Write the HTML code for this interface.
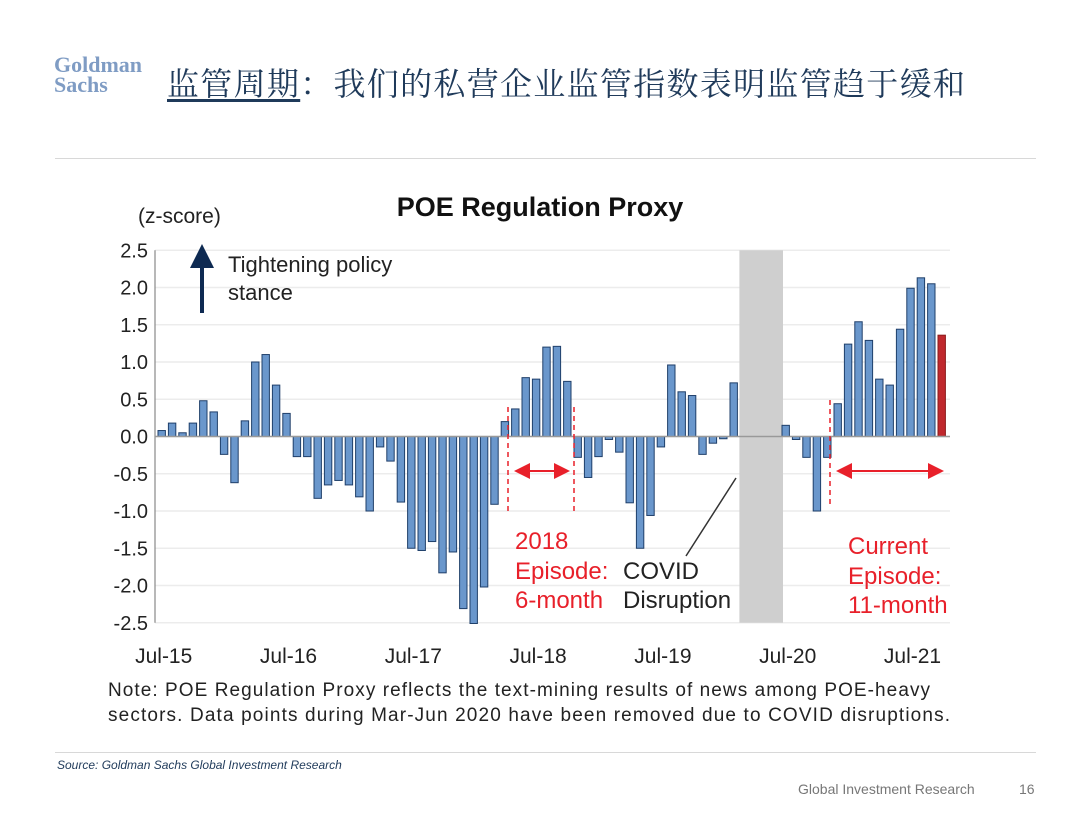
<!DOCTYPE html>
<html><head><meta charset="utf-8">
<style>
html,body{margin:0;padding:0;background:#fff;}
body{width:1080px;height:834px;position:relative;overflow:hidden;font-family:"Liberation Sans","Noto Sans CJK SC",sans-serif;}
.abs{position:absolute;white-space:nowrap;}
</style></head><body>
<div class="abs" style="left:54px;top:55px;font-family:'Liberation Serif',serif;font-weight:bold;font-size:22px;line-height:20px;color:#7f9cc4;">Goldman<br>Sachs</div>
<div class="abs" style="left:167px;top:59px;font-family:'Liberation Serif','Noto Serif CJK SC',serif;font-size:32px;color:#1f3a5a;letter-spacing:1.3px;"><span style="text-decoration:underline;text-underline-offset:4px;">监管周期</span>：我们的私营企业监管指数表明监管趋于缓和</div>
<div class="abs" style="left:55px;top:158px;width:981px;height:1px;background:#d8d8d8;"></div>

<svg id="chart" width="1080" height="834" style="position:absolute;left:0;top:0;" xmlns="http://www.w3.org/2000/svg"></svg>

<div class="abs" style="left:55px;top:752px;width:981px;height:1px;background:#d8d8d8;"></div>
<div class="abs" style="left:57px;top:758px;font-size:12px;font-style:italic;color:#1f3a5a;">Source: Goldman Sachs Global Investment Research</div>
<div class="abs" style="left:798px;top:781px;font-size:14px;color:#777;">Global Investment Research</div>
<div class="abs" style="left:1019px;top:781px;font-size:14px;color:#777;">16</div>

<script>
const values = [0.08,0.18,0.05,0.18,0.48,0.33,-0.24,-0.62,0.21,1.0,1.1,0.69,0.31,-0.27,-0.27,-0.83,-0.65,-0.59,-0.65,-0.81,-1.0,-0.14,-0.33,-0.88,-1.5,-1.53,-1.41,-1.83,-1.55,-2.31,-2.51,-2.02,-0.91,0.2,0.37,0.79,0.77,1.2,1.21,0.74,-0.28,-0.55,-0.27,-0.04,-0.21,-0.89,-1.5,-1.06,-0.14,0.96,0.6,0.55,-0.24,-0.09,-0.03,0.72,null,null,null,null,0.15,-0.04,-0.28,-1.0,-0.28,0.44,1.24,1.54,1.29,0.77,0.69,1.44,1.99,2.13,2.05,1.36];
const yTicks = [2.5,2.0,1.5,1.0,0.5,0.0,-0.5,-1.0,-1.5,-2.0,-2.5];
const xLabels = ["Jul-15","Jul-16","Jul-17","Jul-18","Jul-19","Jul-20","Jul-21"];
const xLabelIdx = [0,12,24,36,48,60,72];
const gapStart = 56, gapEnd = 59;

const NS="http://www.w3.org/2000/svg";
const svg=document.getElementById('chart');
const y0=436.5, unit=74.5, x0=161.7, step=10.4, bw=7.4;
const Y=v=>y0-v*unit;
const X=i=>x0+i*step;
function mk(tag,attrs,parent){const e=document.createElementNS(NS,tag);for(const k in attrs)e.setAttribute(k,attrs[k]);(parent||svg).appendChild(e);return e;}
function txt(s,x,y,attrs){const t=mk('text',Object.assign({x:x,y:y},attrs));t.textContent=s;return t;}

yTicks.forEach(v=>{
  const g=mk('line',{x1:155,x2:950,y1:Y(v),y2:Y(v),stroke:'#ececec','stroke-width':1.5});
  
  
  const t=txt(v.toFixed(1),148,Y(v)+7,{'text-anchor':'end','font-size':20,fill:'#222','font-family':'Liberation Sans'});
  
  
});
const band=mk('rect',{x:X(gapStart)-bw/2-1,y:Y(2.5),width:(gapEnd-gapStart+1)*step+2,height:Y(-2.5)-Y(2.5),fill:'#cfcfcf'});


const ya=mk('line',{x1:155,x2:155,y1:Y(2.5),y2:Y(-2.5),stroke:'#888','stroke-width':1.2});


values.forEach((v,i)=>{
  if(v===null)return;
  const r=mk('rect',{x:X(i)-bw/2,y:Math.min(Y(v),y0),width:bw,height:Math.abs(Y(v)-y0),fill:i===values.length-1?'#c0282d':'#6a97cc',stroke:i===values.length-1?'#8a1a1a':'#1f3f6a','stroke-width':1});
  
  
});
const za=mk('line',{x1:155,x2:950,y1:y0,y2:y0,stroke:'#999','stroke-width':1.5});


xLabels.forEach((s,k)=>{
  const t=txt(s,X(xLabelIdx[k])+2,663,{'text-anchor':'middle','font-size':21,fill:'#222','font-family':'Liberation Sans'});
  
  
});
</script>

<svg width="1080" height="834" style="position:absolute;left:0;top:0;" xmlns="http://www.w3.org/2000/svg">
  <defs>
    <marker id="ar" markerWidth="8" markerHeight="8" refX="6" refY="4" orient="auto"><path d="M0,0 L8,4 L0,8 z" fill="#e8202a"/></marker>
    <marker id="al" markerWidth="8" markerHeight="8" refX="2" refY="4" orient="auto"><path d="M8,0 L0,4 L8,8 z" fill="#e8202a"/></marker>
    <marker id="nav" markerWidth="6" markerHeight="6" refX="3" refY="3" orient="auto"><path d="M0,0 L6,3 L0,6 z" fill="#0e2a52"/></marker>
  </defs>
  <text x="540" y="216" text-anchor="middle" font-size="27" font-weight="bold" font-family="Liberation Sans" fill="#111">POE Regulation  Proxy</text>
  <text x="138" y="223" font-size="21" font-family="Liberation Sans" fill="#222">(z-score)</text>
  <line x1="202" y1="313" x2="202" y2="256" stroke="#0e2a52" stroke-width="4" marker-end="url(#nav)"/>
  <text x="228" y="272" font-size="22" font-family="Liberation Sans" fill="#222">Tightening policy</text>
  <text x="228" y="300" font-size="22" font-family="Liberation Sans" fill="#222">stance</text>
  <g stroke="#e8202a" stroke-width="1.5" stroke-dasharray="5,4">
    <line x1="508" y1="407" x2="508" y2="515"/>
    <line x1="574" y1="407" x2="574" y2="515"/>
    <line x1="830" y1="400" x2="830" y2="505"/>
  </g>
  <line x1="518" y1="471" x2="566" y2="471" stroke="#e8202a" stroke-width="2" marker-start="url(#al)" marker-end="url(#ar)"/>
  <line x1="840" y1="471" x2="940" y2="471" stroke="#e8202a" stroke-width="2" marker-start="url(#al)" marker-end="url(#ar)"/>
  <line x1="736" y1="478" x2="686" y2="556" stroke="#333" stroke-width="1.5"/>
  <g font-family="Liberation Sans" font-size="24" fill="#e8202a">
    <text x="515" y="549">2018</text><text x="515" y="579">Episode:</text><text x="515" y="608">6-month</text>
  </g>
  <g font-family="Liberation Sans" font-size="24" fill="#222">
    <text x="623" y="579">COVID</text><text x="623" y="608">Disruption</text>
  </g>
  <g font-family="Liberation Sans" font-size="24" fill="#e8202a">
    <text x="848" y="554">Current</text><text x="848" y="584">Episode:</text><text x="848" y="613">11-month</text>
  </g>
  <g font-family="Liberation Sans" font-size="19" fill="#222">
    <text x="108" y="696" textLength="822">Note: POE Regulation Proxy reflects the text-mining results of news among POE-heavy</text>
    <text x="108" y="721" textLength="842">sectors. Data points during Mar-Jun 2020 have  been removed due to COVID disruptions.</text>
  </g>
</svg>
</body></html>
